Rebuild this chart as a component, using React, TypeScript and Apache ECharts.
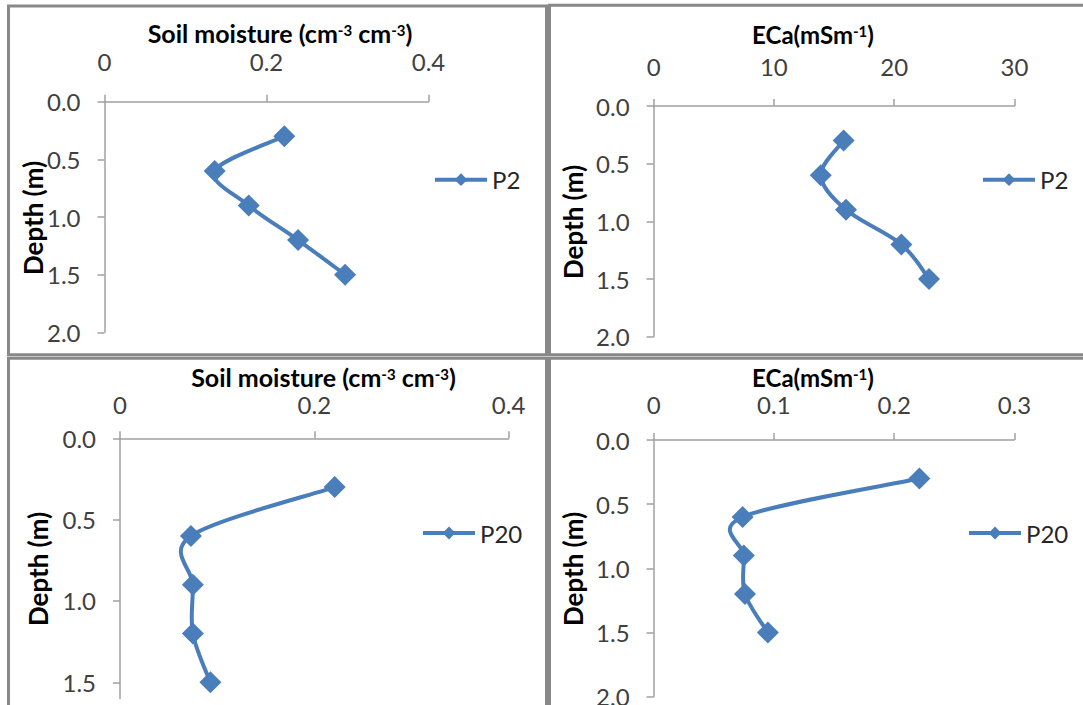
import React, { useEffect, useRef } from 'react';
import * as echarts from 'echarts';

// ---- data ----
const depths = [0.3, 0.6, 0.9, 1.2, 1.5];
const moistureP2 = [0.222, 0.136, 0.178, 0.239, 0.297];
const ecaP2 = [15.8, 13.9, 16.0, 20.6, 22.9];
const moistureP20 = [0.221, 0.073, 0.075, 0.075, 0.093];
const ecaP20 = [0.221, 0.074, 0.075, 0.076, 0.095];

const seriesNames = ['P2', 'P2', 'P20', 'P20'];
const titleMoisture = '{b|Soil moisture (cm}{s|-3}{b| cm}{s|-3}{b|)}';
const titleEca = '{e|ECa(mSm}{s|-1}{e|)}';
const depthLabel = 'Depth (m)';
const depthTicksFull = [0, 0.5, 1.0, 1.5, 2.0];
const depthTicksShort = [0, 0.5, 1.0, 1.5];

const FONT = 'Lato';
const BLUE = '#4A7EBB';
const AXIS = '#a0a0a0';

const pairs = (vals: number[]) => vals.map((v, i) => [v, depths[i]]);

// Excel-like smoothed curve (Catmull-Rom, tension 1/6) through screen points
function smoothPath(pts: number[][]): string {
  let d = `M${pts[0][0]},${pts[0][1]}`;
  for (let i = 0; i < pts.length - 1; i++) {
    const p0 = pts[Math.max(0, i - 1)];
    const p1 = pts[i];
    const p2 = pts[i + 1];
    const p3 = pts[Math.min(pts.length - 1, i + 2)];
    const c1x = p1[0] + (p2[0] - p0[0]) / 6;
    const c1y = p1[1] + (p2[1] - p0[1]) / 6;
    const c2x = p2[0] - (p3[0] - p1[0]) / 6;
    const c2y = p2[1] - (p3[1] - p1[1]) / 6;
    d += ` C${c1x},${c1y} ${c2x},${c2y} ${p2[0]},${p2[1]}`;
  }
  return d;
}

export default function App() {
  const ref = useRef<HTMLDivElement>(null);
  useEffect(() => {
    if (!ref.current) return;
    const chart = echarts.init(ref.current, undefined, { renderer: 'svg' });

    const grids = [
      { left: 104.5, top: 101.7, width: 324, height: 230.6 },
      { left: 653.6, top: 106, width: 360.8, height: 230.7 },
      { left: 120, top: 438.3, width: 388.6, height: 260.3 },
      { left: 653.6, top: 440, width: 360.8, height: 256.7 },
    ];
    const xCfg = [
      { max: 0.4, interval: 0.2, margin: 28 },
      { max: 30, interval: 10, margin: 28 },
      { max: 0.4, interval: 0.2, margin: 22 },
      { max: 0.3, interval: 0.1, margin: 24 },
    ];
    const yMax = [2.0, 2.0, 1.6, 2.0];

    const lineStyle = { color: AXIS, width: 1.5 };
    const xAxis = xCfg.map((c, i) => ({
      type: 'value',
      gridIndex: i,
      position: 'top',
      min: 0,
      max: c.max,
      interval: c.interval,
      axisLine: { show: true, lineStyle },
      axisTick: { show: true, inside: false, length: 7, lineStyle },
      axisLabel: { margin: c.margin, fontSize: 24, color: '#404040', fontFamily: FONT },
      splitLine: { show: false },
    }));
    const yAxis = yMax.map((m, i) => {
      const ticks = m >= 2 ? depthTicksFull : depthTicksShort;
      return {
        type: 'value',
        gridIndex: i,
        inverse: true,
        min: 0,
        max: m,
        interval: 0.5,
        axisLine: { show: true, lineStyle },
        axisTick: { show: true, inside: false, length: 7, lineStyle, customValues: ticks },
        axisLabel: {
          margin: 24,
          fontSize: 24,
          color: '#404040',
          fontFamily: FONT,
          customValues: ticks,
          formatter: (v: number) => v.toFixed(1),
        },
        splitLine: { show: false },
      };
    });

    const dataSets = [moistureP2, ecaP2, moistureP20, ecaP20];
    const curveSeries = dataSets.map((d, i) => ({
      type: 'custom',
      xAxisIndex: i,
      yAxisIndex: i,
      silent: true,
      z: 2,
      data: pairs(d),
      renderItem: (params: any, api: any) => {
        if (params.dataIndex !== 0) return null;
        const pts = pairs(d).map((p) => api.coord(p));
        return {
          type: 'path',
          shape: { pathData: smoothPath(pts) },
          style: { stroke: BLUE, lineWidth: 4, fill: 'none', lineJoin: 'round', lineCap: 'round' },
        };
      },
    }));
    const markerSeries = dataSets.map((d, i) => ({
      type: 'line',
      name: seriesNames[i],
      xAxisIndex: i,
      yAxisIndex: i,
      data: pairs(d),
      symbol: 'diamond',
      symbolSize: 22,
      lineStyle: { width: 4, color: BLUE, opacity: 0 },
      itemStyle: { color: BLUE },
      z: 3,
    }));

    const legendPos = [
      { left: 433, cy: 181.7 },
      { left: 981, cy: 181.7 },
      { left: 421, cy: 535 },
      { left: 967, cy: 535 },
    ];
    const legend = legendPos.map((p, i) => ({
      data: [seriesNames[i]],
      left: p.left,
      top: p.cy - 14,
      padding: 0,
      itemWidth: 52,
      itemHeight: 16,
      lineStyle: { width: 4, color: BLUE, opacity: 1 },
      textStyle: { fontSize: 24, color: '#262626', fontFamily: FONT },
      selectedMode: false,
    }));

    const rich = {
      b: { fontSize: 25, fontWeight: 'bold', fontFamily: FONT, color: '#000', lineHeight: 22 },
      e: { fontSize: 24, fontWeight: 'bold', fontFamily: FONT, color: '#000', lineHeight: 22 },
      s: { fontSize: 15, fontWeight: 'bold', fontFamily: FONT, color: '#000', verticalAlign: 'top', lineHeight: 22 },
    };
    const titles = [
      { text: titleMoisture, x: 280, y: 33 },
      { text: titleEca, x: 813, y: 34 },
      { text: titleMoisture, x: 323.5, y: 377 },
      { text: titleEca, x: 813, y: 377 },
    ];
    const depthPos = [
      { x: 32.5, y: 218 },
      { x: 573, y: 222 },
      { x: 37.5, y: 569 },
      { x: 573, y: 569 },
    ];
    const borderStyle = { fill: 'none', stroke: '#888888', lineWidth: 3 };
    const graphic: any[] = [
      { type: 'rect', shape: { x: 8.5, y: 6, width: 538, height: 348.7 }, style: borderStyle, silent: true },
      { type: 'rect', shape: { x: 549.5, y: 5.3, width: 545, height: 349.4 }, style: borderStyle, silent: true },
      { type: 'rect', shape: { x: 8.5, y: 358.3, width: 538, height: 360 }, style: borderStyle, silent: true },
      { type: 'rect', shape: { x: 549.5, y: 358.3, width: 545, height: 360 }, style: borderStyle, silent: true },
    ];
    titles.forEach((t) => {
      graphic.push({
        type: 'text',
        x: t.x,
        y: t.y,
        style: { text: t.text, rich, align: 'center', verticalAlign: 'middle', textAlign: 'center', textVerticalAlign: 'middle' },
        silent: true,
      });
    });
    depthPos.forEach((p) => {
      graphic.push({
        type: 'text',
        x: p.x,
        y: p.y,
        rotation: Math.PI / 2,
        style: {
          text: depthLabel,
          fontSize: 26,
          fontWeight: 'bold',
          fontFamily: FONT,
          fill: '#000',
          align: 'center',
          verticalAlign: 'middle',
          textAlign: 'center',
          textVerticalAlign: 'middle',
        },
        silent: true,
      });
    });

    chart.setOption({
      animation: false,
      backgroundColor: '#ffffff',
      grid: grids.map((g) => ({ ...g, containLabel: false, outerBoundsMode: 'none' })),
      xAxis,
      yAxis,
      series: [...curveSeries, ...markerSeries],
      legend,
      graphic,
      tooltip: { show: false },
    } as any);
    return () => chart.dispose();
  }, []);
  return (
    <div style={{ position: 'fixed', left: 0, top: 0, width: 1083, height: 705, background: '#fff', overflow: 'hidden' }}>
      <div ref={ref} style={{ width: 1083, height: 705 }} />
    </div>
  );
}
